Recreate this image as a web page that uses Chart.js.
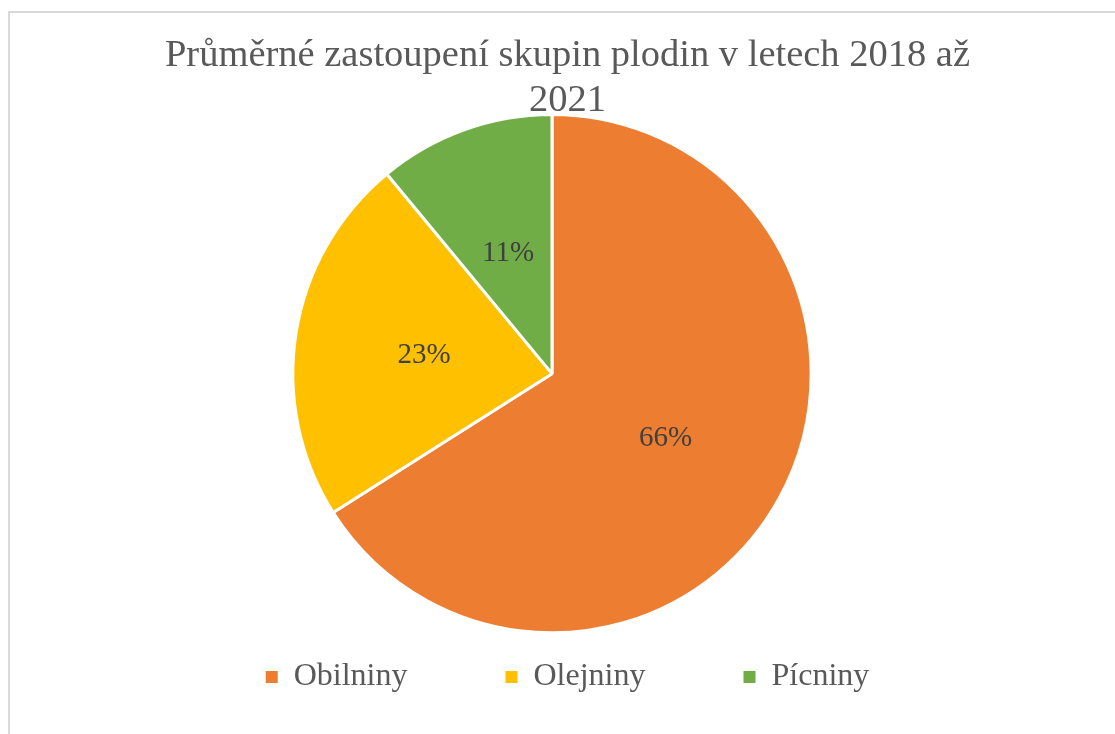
<!DOCTYPE html>
<html>
<head>
<meta charset="utf-8">
<script src="https://cdn.jsdelivr.net/npm/chart.js@4/dist/chart.umd.min.js"></script>
<style>
    body { margin: 0; background: #fff; }
    .frame {
        position: absolute; left: 8px; top: 11px;
        width: 1200px; height: 800px;
        border: 2px solid #d9d9d9;
    }
    canvas { position: absolute; left: 0; top: 0; }
</style>
</head>
<body>
<div class="frame"></div>
<canvas id="crops" width="1115" height="734"></canvas>
<script>
// Průměrné zastoupení skupin plodin 2018–2021 (podíly v %)
const categories = ['Obilniny', 'Olejniny', 'Pícniny'];
const shares = [66, 23, 11];
const sliceColors = ['#ED7D31', '#FFC000', '#70AD47'];
const titleLines = ['Průměrné zastoupení skupin plodin v letech 2018 až', '2021'];

const SERIF = '"Liberation Serif", "Times New Roman", serif';
const TEXT_GREY = '#595959';

// percent labels in the middle of each slice
const percentLabels = {
    id: 'percentLabels',
    afterDatasetsDraw(chart) {
        const ctx = chart.ctx;
        const values = chart.data.datasets[0].data;
        const total = values.reduce((a, b) => a + b, 0);
        ctx.save();
        ctx.font = '29px ' + SERIF;
        ctx.fillStyle = '#404040';
        ctx.textAlign = 'center';
        ctx.textBaseline = 'middle';
        chart.getDatasetMeta(0).data.forEach((arc, i) => {
            const pos = arc.tooltipPosition();
            ctx.fillText(Math.round(values[i] / total * 100) + '%', pos.x, pos.y + 2);
        });
        ctx.restore();
    }
};

new Chart(document.getElementById('crops'), {
    type: 'pie',
    data: {
        labels: categories,
        datasets: [{
            data: shares,
            backgroundColor: sliceColors,
            borderColor: '#ffffff',
            borderWidth: 3
        }]
    },
    options: {
        responsive: false,
        animation: false,
        devicePixelRatio: 1,
        events: [],
        layout: { padding: { left: 20, right: 0, top: 0, bottom: 31 } },
        plugins: {
            tooltip: { enabled: false },
            title: {
                display: true,
                text: titleLines,
                color: TEXT_GREY,
                font: { family: SERIF, size: 38.5, weight: 'normal', lineHeight: 1.169 },
                padding: { top: 33, bottom: -10 }
            },
            // empty spacer on the right, nudges the pie left of the title
            subtitle: {
                display: true,
                position: 'right',
                text: '',
                font: { size: 10 },
                padding: 9.5
            },
            legend: {
                position: 'bottom',
                title: { display: true, text: '', font: { size: 1 }, padding: { top: -37, bottom: -35.5 } },
                labels: {
                    color: TEXT_GREY,
                    font: { family: SERIF, size: 32 },
                    boxWidth: 12,
                    boxHeight: 12,
                    padding: 98,
                    generateLabels(chart) {
                        return Chart.overrides.pie.plugins.legend.labels.generateLabels(chart)
                            .map(item => ({ ...item, lineWidth: 0 }));
                    }
                }
            }
        }
    },
    plugins: [percentLabels]
});
</script>
</body>
</html>
